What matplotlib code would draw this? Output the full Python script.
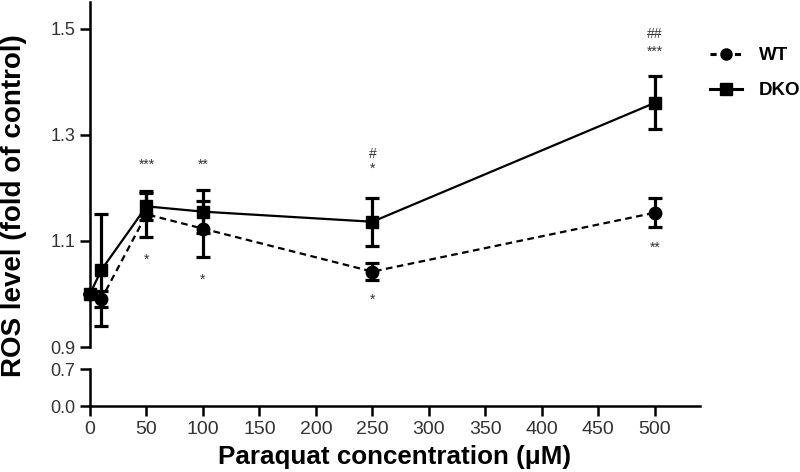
import matplotlib.pyplot as plt
from matplotlib.lines import Line2D

plt.rcParams['font.family'] = ['Liberation Sans', 'DejaVu Sans']

conc = [0, 10, 50, 100, 250, 500]
wt_mean = [1.0, 0.99, 1.15, 1.123, 1.042, 1.153]
wt_err = [0.0, 0.015, 0.043, 0.053, 0.016, 0.027]
dko_mean = [1.0, 1.045, 1.165, 1.155, 1.136, 1.36]
dko_err = [0.0, 0.105, 0.026, 0.04, 0.045, 0.05]

# significance marks: (x, y, text)
marks = [
    (50, 1.243, '***'), (50, 1.064, '*'),
    (100, 1.243, '**'), (100, 1.026, '*'),
    (250, 1.264, '#'), (250, 1.236, '*'), (250, 0.989, '*'),
    (500, 1.489, '##'), (500, 1.457, '***'), (500, 1.087, '**'),
]
xticks = list(range(0, 501, 50))

fig = plt.figure(figsize=(8, 4.72), dpi=100)
ax = fig.add_axes([0.1125, 0.2648, 0.7625, 0.731])
axb = fig.add_axes([0.1125, 0.1398, 0.7625, 0.0784])

lw = 1.8
ax.errorbar(conc, wt_mean, yerr=wt_err, color='black', ls='--', lw=1.6, marker='o',
            ms=9, capsize=5, capthick=2.3, elinewidth=2.3, clip_on=False, dashes=(3, 2))
ax.errorbar(conc, dko_mean, yerr=dko_err, color='black', ls='-', lw=1.6, marker='s',
            ms=9, capsize=5, capthick=2.3, elinewidth=2.3, clip_on=False)

for x, y, t in marks:
    ax.text(x, y, t, ha='center', va='center', fontsize=10, color='#333333')

ax.set_xlim(0, 540)
ax.set_ylim(0.9, 1.55)
ax.set_yticks([0.9, 1.1, 1.3, 1.5])
ax.set_yticklabels(['0.9', '1.1', '1.3', '1.5'])
ax.set_yticks([0.9], minor=True)
ax.tick_params(axis='y', which='minor', direction='in', length=6, width=lw)
ax.set_xticks([])
for s in ['top', 'right', 'bottom']:
    ax.spines[s].set_visible(False)

axb.set_xlim(0, 540)
axb.set_ylim(0, 0.7)
axb.set_yticks([0.0, 0.7])
axb.set_yticklabels(['0.0', '0.7'])
axb.set_yticks([0.7], minor=True)
axb.tick_params(axis='y', which='minor', direction='in', length=6, width=lw)
axb.set_xticks(xticks)
axb.set_xticklabels([str(v) for v in xticks])
for s in ['top', 'right']:
    axb.spines[s].set_visible(False)

for a in (ax, axb):
    for s in a.spines.values():
        s.set_linewidth(lw)
    a.tick_params(axis='both', which='major', direction='out', length=7, width=lw,
                  labelsize=13, colors='black', labelcolor='#333333')
axb.tick_params(axis='x', labelsize=14, pad=4)

axb.set_xlabel('Paraquat concentration (\u03bcM)', fontsize=18.7, fontweight='bold', labelpad=5)
fig.text(0.018, 0.564, 'ROS level (fold of control)', rotation=90, ha='center', va='center',
         fontsize=20, fontweight='bold')

handles = [
    Line2D([], [], color='black', ls='--', lw=2.2, dashes=(2, 2), marker='o', ms=8),
    Line2D([], [], color='black', ls='-', lw=2.2, marker='s', ms=8),
]
fig.legend(handles=handles, labels=['WT', 'DKO'],
           loc='upper left', bbox_to_anchor=(0.888, 0.90), frameon=False,
           borderpad=0, borderaxespad=0,
           prop={'weight': 'bold', 'size': 13.5}, handlelength=1.7, labelspacing=0.95,
           handletextpad=0.9)

fig.savefig('out.png', dpi=100)
